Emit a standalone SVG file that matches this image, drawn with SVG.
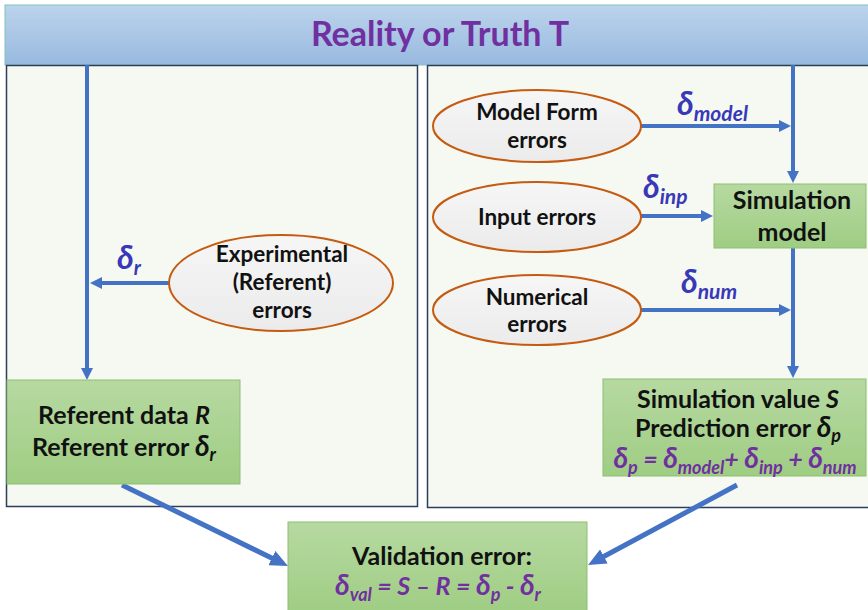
<svg xmlns="http://www.w3.org/2000/svg" width="868" height="610" viewBox="0 0 868 610">
  <defs>
    <linearGradient id="bannerFill" x1="0" y1="0" x2="0" y2="1">
      <stop offset="0" stop-color="#bcd3ec"/>
      <stop offset="1" stop-color="#98badf"/>
    </linearGradient>
    <linearGradient id="greenFill" x1="0" y1="0" x2="0" y2="1">
      <stop offset="0" stop-color="#b6d9a1"/>
      <stop offset="1" stop-color="#9fcd83"/>
    </linearGradient>
    <linearGradient id="ovalFill" x1="0" y1="0" x2="0" y2="1">
      <stop offset="0" stop-color="#f6f6f6"/>
      <stop offset="1" stop-color="#ebebeb"/>
    </linearGradient>
    <marker id="ah" viewBox="0 0 12 12" refX="4" refY="6" markerWidth="12" markerHeight="12" markerUnits="userSpaceOnUse" orient="auto">
      <path d="M0,0 L12,6 L0,12 z" fill="#4472c4"/>
    </marker>
    <marker id="ahL" viewBox="0 0 18 16" refX="6" refY="8" markerWidth="18" markerHeight="16" markerUnits="userSpaceOnUse" orient="auto">
      <path d="M0,0 L18,8 L0,16 z" fill="#4472c4"/>
    </marker>
  </defs>
  <style>
    .panel { fill: #f5f9f1; stroke: #2f3d5c; stroke-width: 1.5; }
    .box { fill: url(#greenFill); stroke: #8dbf70; stroke-width: 1; }
    .oval { fill: url(#ovalFill); stroke: #c55a11; stroke-width: 2; }
    .t { font-family: Lato, "Open Sans", "DejaVu Sans", sans-serif; font-weight: 700; fill: #111; text-anchor: middle; }
    .box-t { font-size: 25px; }
    .oval-t { font-size: 22.5px; }
    .title { font-size: 34px; fill: #7030a0; }
    .it { font-style: italic; }
    .sym { font-family: Lato, "Open Sans", "DejaVu Sans", sans-serif; font-weight: 700; font-style: italic; fill: #3838b8; }
    .eq { fill: #7030a0; font-style: italic; }
    .sub { font-size: 18px; }
    .big { font-size: 28px; }
    .wire { fill: none; stroke: #4472c4; stroke-width: 4; marker-end: url(#ah); }
    .wire-d { fill: none; stroke: #4472c4; stroke-width: 5; marker-end: url(#ahL); }
  </style>

  <!-- banner -->
  <g id="truth">
    <rect x="5" y="5" width="868" height="60" fill="url(#bannerFill)" stroke="#7fc6b8" stroke-width="1"/>
    <text class="t title" x="440" y="46">Reality or Truth T</text>
  </g>

  <!-- experiment and simulation panels -->
  <g id="experiment-panel">
    <rect class="panel" x="6.5" y="65.5" width="411" height="441"/>
  </g>
  <g id="simulation-panel">
    <rect class="panel" x="427.5" y="65.5" width="450" height="442"/>
  </g>

  <!-- connectors -->
  <g id="connectors">
    <line class="wire" x1="87" y1="65" x2="87" y2="372"/>
    <line class="wire" x1="170" y1="283" x2="98" y2="283"/>
    <line class="wire" x1="793" y1="65" x2="793" y2="175"/>
    <line class="wire" x1="641" y1="126" x2="783" y2="126"/>
    <line class="wire" x1="641" y1="216" x2="705" y2="216"/>
    <line class="wire" x1="793" y1="248" x2="793" y2="370"/>
    <line class="wire" x1="641" y1="310" x2="783" y2="310"/>
    <line class="wire-d" x1="122" y1="485" x2="277.2" y2="560.7"/>
    <line class="wire-d" x1="737" y1="485" x2="598.6" y2="559.3"/>
  </g>

  <!-- connector labels -->
  <g id="labels">
    <text class="sym" x="117" y="269" font-size="32">δ<tspan font-size="20" dy="6">r</tspan></text>
    <text class="sym" x="677" y="115" font-size="32">δ<tspan font-size="21" dy="6">model</tspan></text>
    <text class="sym" x="643" y="198" font-size="32">δ<tspan font-size="21" dy="6">inp</tspan></text>
    <text class="sym" x="681" y="293" font-size="32">δ<tspan font-size="21" dy="6">num</tspan></text>
  </g>

  <!-- error sources -->
  <g id="experimental-errors">
    <ellipse class="oval" cx="281" cy="283" rx="112" ry="48"/>
    <text class="t oval-t" x="282" y="262">Experimental</text>
    <text class="t oval-t" x="282" y="290">(Referent)</text>
    <text class="t oval-t" x="282" y="318">errors</text>
  </g>
  <g id="model-form-errors">
    <ellipse class="oval" cx="537" cy="126" rx="104" ry="36"/>
    <text class="t oval-t" x="537" y="120">Model Form</text>
    <text class="t oval-t" x="537" y="148">errors</text>
  </g>
  <g id="input-errors">
    <ellipse class="oval" cx="537" cy="217" rx="104" ry="35"/>
    <text class="t oval-t" x="537" y="225">Input errors</text>
  </g>
  <g id="numerical-errors">
    <ellipse class="oval" cx="537" cy="310" rx="104" ry="35"/>
    <text class="t oval-t" x="537" y="305">Numerical</text>
    <text class="t oval-t" x="537" y="332">errors</text>
  </g>

  <!-- result boxes -->
  <g id="simulation-model">
    <rect class="box" x="714" y="184" width="152" height="64"/>
    <text class="t box-t" x="792" y="209">Simulation</text>
    <text class="t box-t" x="792" y="241">model</text>
  </g>
  <g id="referent-data">
    <rect class="box" x="7" y="380" width="233" height="104"/>
    <text class="t box-t" x="124" y="424">Referent data <tspan class="it">R</tspan></text>
    <text class="t box-t" x="124" y="456">Referent error <tspan class="it big">δ</tspan><tspan class="it sub" dy="5">r</tspan></text>
  </g>
  <g id="simulation-value">
    <rect class="box" x="603" y="379" width="263" height="97"/>
    <text class="t box-t" x="738" y="408">Simulation value <tspan class="it">S</tspan></text>
    <text class="t box-t" x="738" y="437">Prediction error <tspan class="it big">δ</tspan><tspan class="it sub" dy="5">p</tspan></text>
    <text class="t box-t eq" x="735" y="468"><tspan class="big">δ</tspan><tspan class="sub" dy="6">p</tspan><tspan dy="-6"> = </tspan><tspan class="big">δ</tspan><tspan class="sub" dy="6">model</tspan><tspan dy="-6">+ </tspan><tspan class="big">δ</tspan><tspan class="sub" dy="6">inp</tspan><tspan dy="-6"> + </tspan><tspan class="big">δ</tspan><tspan class="sub" dy="6">num</tspan></text>
  </g>
  <g id="validation-error">
    <rect class="box" x="288" y="522" width="299" height="92"/>
    <text class="t box-t" x="442" y="565">Validation error:</text>
    <text class="t box-t eq" x="438" y="595"><tspan class="big">δ</tspan><tspan class="sub" dy="6">val</tspan><tspan dy="-6"> = S – R = </tspan><tspan class="big">δ</tspan><tspan class="sub" dy="6">p</tspan><tspan dy="-6"> - </tspan><tspan class="big">δ</tspan><tspan class="sub" dy="6">r</tspan></text>
  </g>
</svg>
